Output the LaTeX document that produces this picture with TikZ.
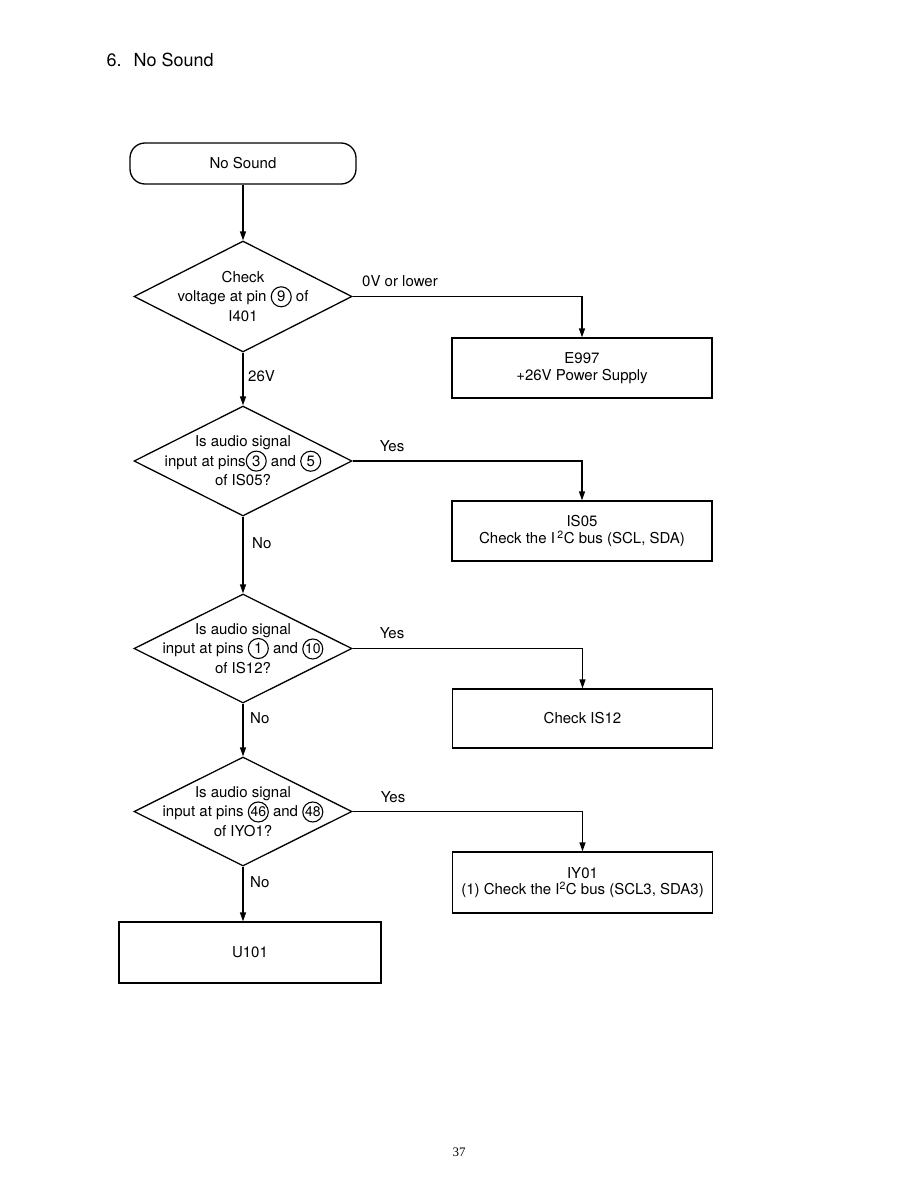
\documentclass[tikz,border=0pt]{standalone}
\usepackage{fontspec}
\setmainfont{TeX Gyre Heros}
\newfontfamily\pagefont{Liberation Serif}
\usetikzlibrary{arrows.meta,shapes.geometric}
\tikzset{
  term/.style={draw, rectangle, rounded corners=15pt, minimum width=226pt,
    minimum height=41pt, line width=1.3pt, font=\fontsize{15}{16}\selectfont},
  decision/.style={draw, diamond, minimum width=218pt, inner sep=0pt,
    line width=1.3pt},
  dtext/.style={align=center, inner sep=0pt, font=\fontsize{15}{19.5}\selectfont},
  box/.style={draw, rectangle, minimum width=260pt, minimum height=60pt,
    line width=1.3pt, align=center, font=\fontsize{15}{16.5}\selectfont},
  flow/.style={-{Triangle[length=9pt,width=6pt]}, line width=1.3pt},
  lab/.style={inner sep=0pt, font=\fontsize{15}{16}\selectfont},
  pinc/.style={draw, circle, minimum size=20pt, inner sep=0pt, line width=1.1pt},
}
\newcommand{\pin}[2][]{\tikz[baseline=(pn.base)]\node[pinc, font=#1] (pn) {#2};}

\begin{document}
\begin{tikzpicture}[x=1pt, y=-1pt]
\useasboundingbox (0,0) rectangle (918,1188);

\node[anchor=west, font=\fontsize{18}{20}\selectfont] (title) at (103,60)
  {6.\hspace{12pt}No Sound};

% Main column: start, four checks, and the last part to replace.
\node[term] (start) at (243,163.5) {No Sound};
\node[decision, minimum height=111pt] (d1) at (243,296.5) {};
\node[dtext] (d1t) at (d1) {Check\\voltage at pin \pin{9} of\\I401};
\node[decision, minimum height=110pt] (d2) at (243,461) {};
\node[dtext] (d2t) at (d2) {Is audio signal\\input at pins\pin{3} and \pin{5}\\of IS05?};
\node[decision, minimum height=109pt] (d3) at (243,648.5) {};
\node[dtext] (d3t) at (d3) {Is audio signal\\input at pins \pin{1} and \pin[\fontsize{14}{14}\selectfont]{10}\\of IS12?};
\node[decision, minimum height=109pt] (d4) at (243,811.5) {};
\node[dtext] (d4t) at (d4) {Is audio signal\\input at pins \pin[\fontsize{14}{14}\selectfont]{46} and \pin[\fontsize{14}{14}\selectfont]{48}\\of IYO1?};
\node[box, minimum width=262pt, minimum height=61pt] (u101) at (250,952.5) {U101};

% Right column: what to check when the answer leaves the column.
\node[box] (b1) at (582,368) {E997\\+26V Power Supply};
\node[box] (b2) at (582,531) {IS05\\Check the I\,\textsuperscript{2}C bus (SCL, SDA)};
\node[box, minimum height=59pt] (b3) at (582.5,718.5) {Check IS12};
\node[box, minimum height=61pt] (b4) at (582.5,882.5) {IY01\\(1) Check the I\textsuperscript{2}C bus (SCL3, SDA3)};

\draw[flow] (start.south) -- (d1.north);
\draw[flow] (d1.south) -- (d2.north);
\draw[flow] (d2.south) -- (d3.north);
\draw[flow] (d3.south) -- (d4.north);
\draw[flow] (d4.south) -- (d4.south |- u101.north);
\draw[flow] (d1.east) -| (b1.north);
\draw[flow] (d2.east) -| (b2.north);
\draw[flow] (d3.east) -| (b3.north);
\draw[flow] (d4.east) -| (b4.north);

\node[lab, anchor=west] (l0v) at (362,281) {0V or lower};
\node[lab, anchor=west] (l26v) at (248,376) {26V};
\node[lab] (yes2) at (392,446) {Yes};
\node[lab] (yes3) at (392,633) {Yes};
\node[lab] (yes4) at (393,797) {Yes};
\node[lab, anchor=west] (no2) at (252,543) {No};
\node[lab, anchor=west] (no3) at (250,718) {No};
\node[lab, anchor=west] (no4) at (250,882) {No};

\node[font=\pagefont\fontsize{13}{14}\selectfont] (page) at (459,1152) {37};

\end{tikzpicture}
\end{document}
